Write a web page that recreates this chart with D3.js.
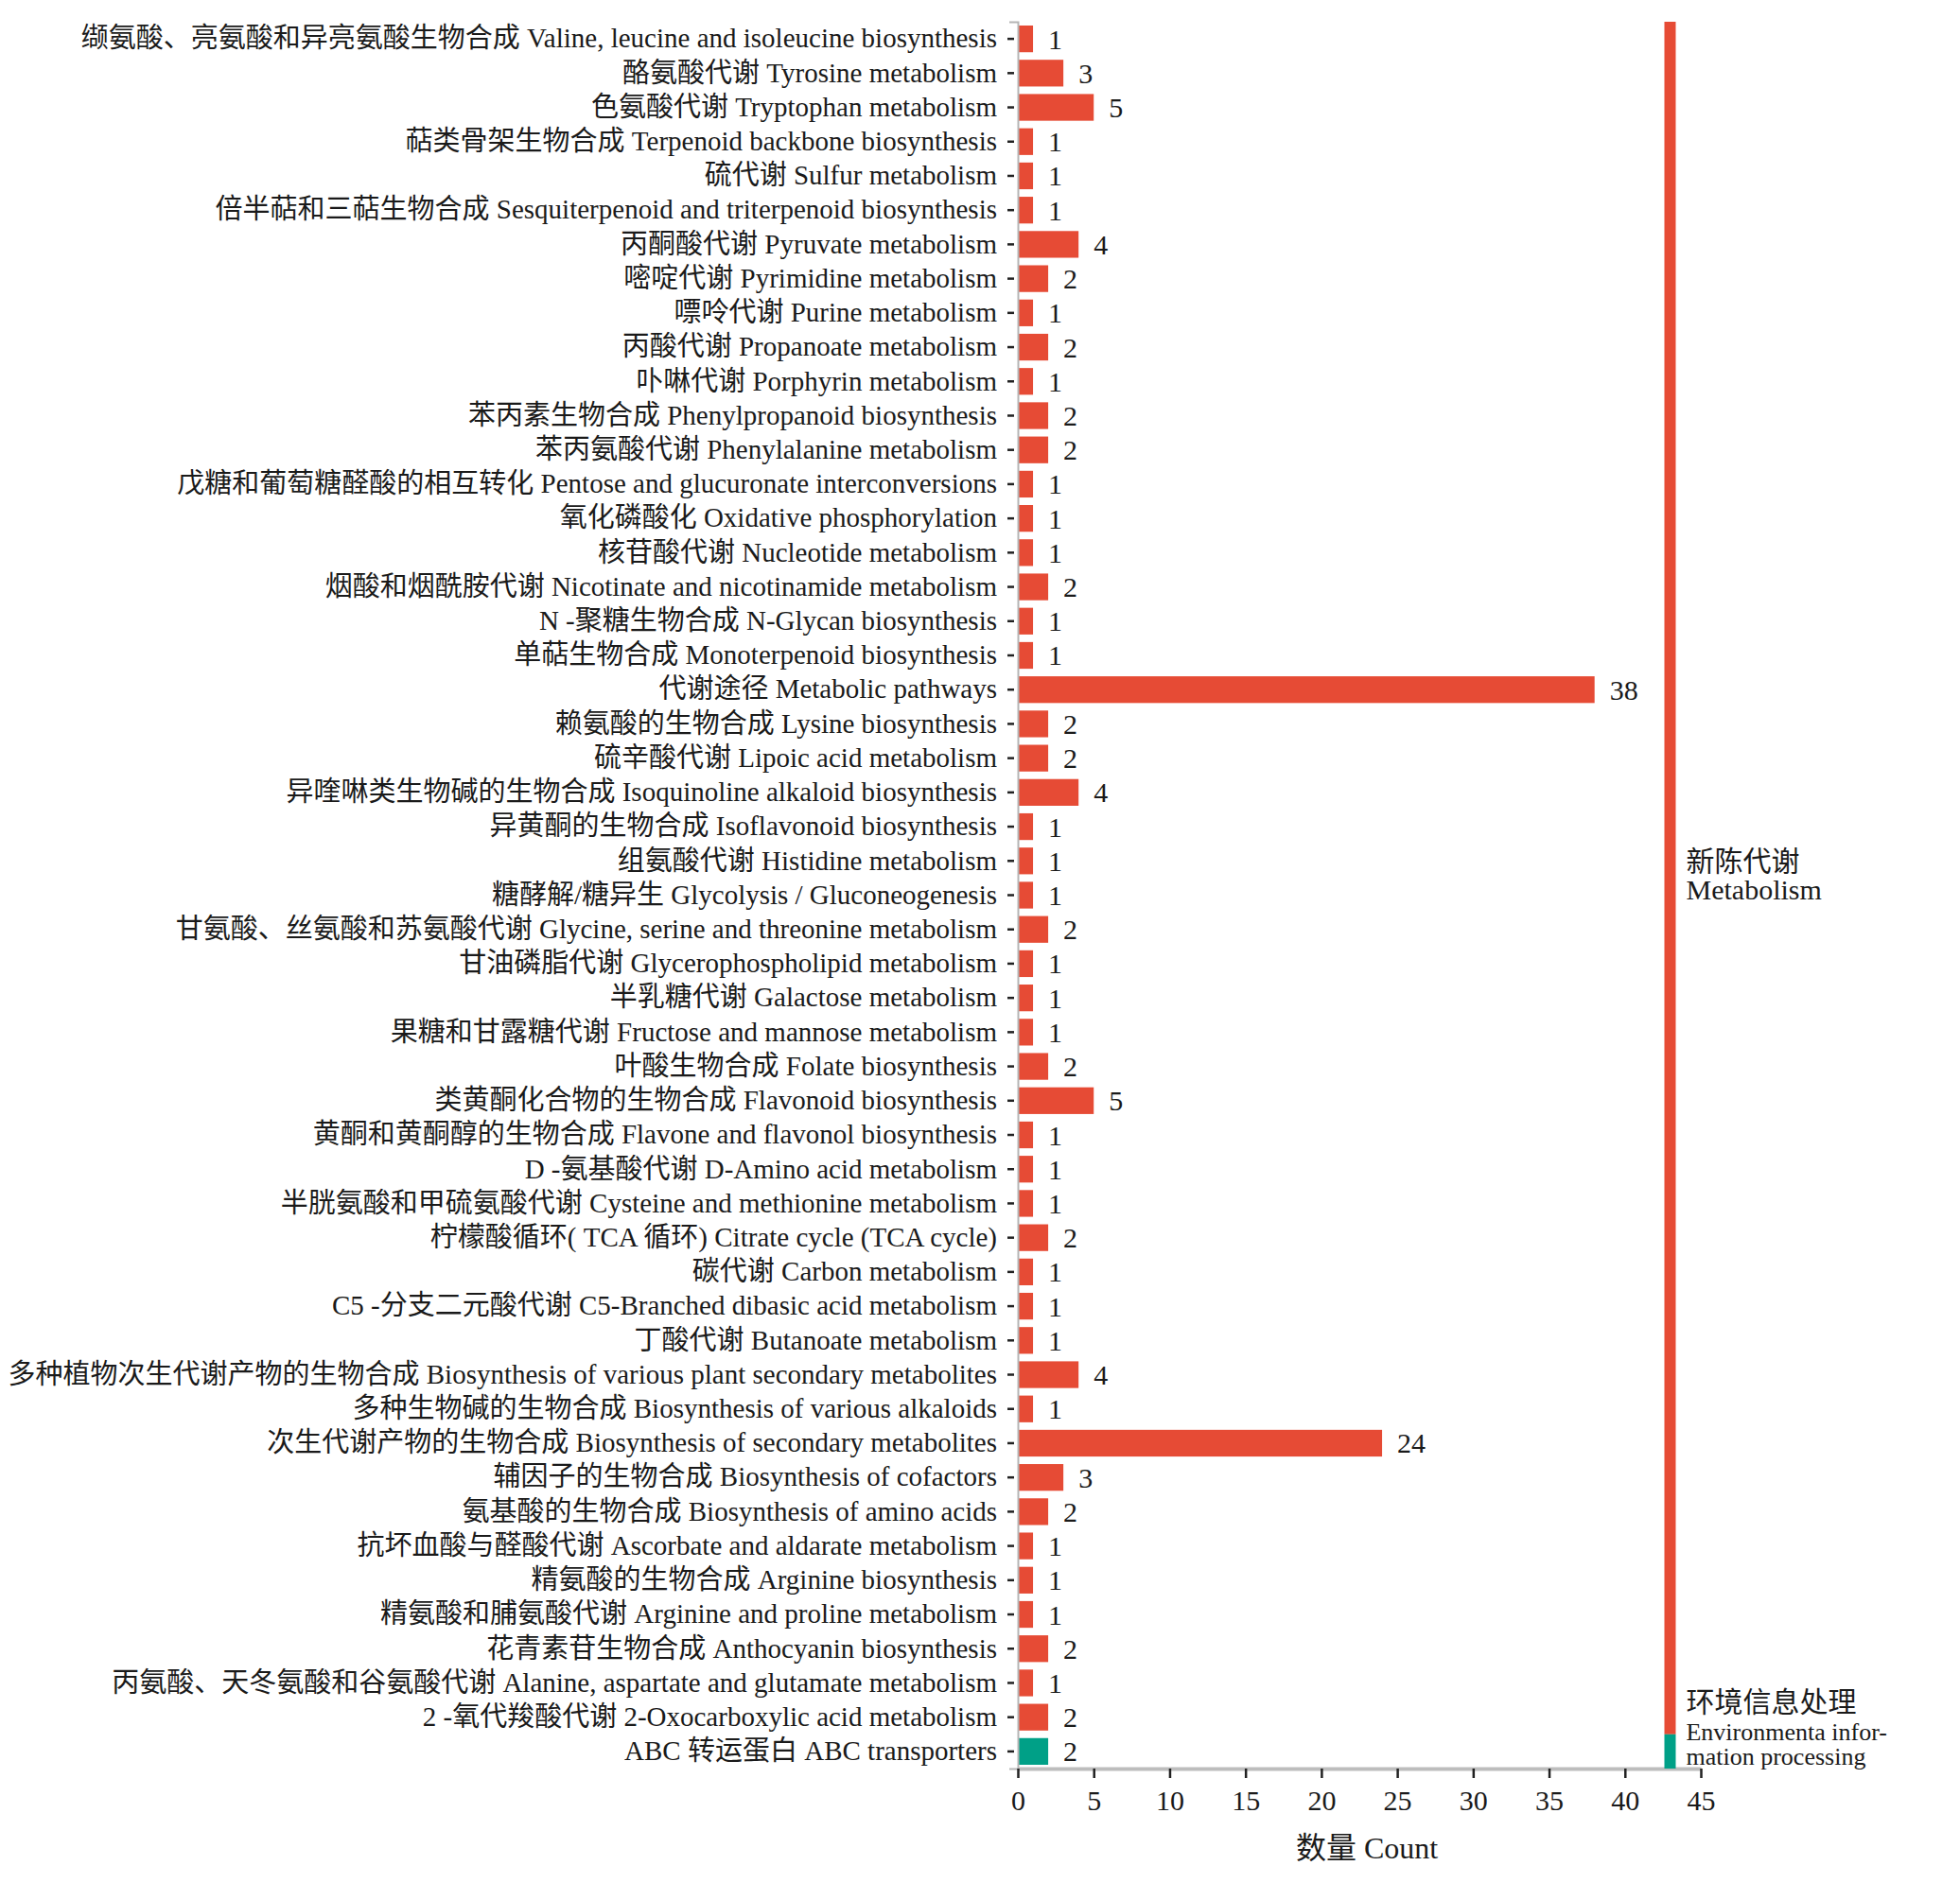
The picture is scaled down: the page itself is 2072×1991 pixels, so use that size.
<!DOCTYPE html>
<html>
<head>
<meta charset="utf-8">
<script src="https://cdn.jsdelivr.net/npm/d3@7"></script>
<style>
  body { margin: 0; background: #fff; }
  svg text { font-family: "Liberation Serif", "Noto Sans CJK SC", serif; fill: #1a1a1a; }
</style>
</head>
<body>
<div id="chart"></div>
<script>
// pathway names, top to bottom
var pathways = [
  "缬氨酸、亮氨酸和异亮氨酸生物合成 Valine, leucine and isoleucine biosynthesis",
  "酪氨酸代谢 Tyrosine metabolism",
  "色氨酸代谢 Tryptophan metabolism",
  "萜类骨架生物合成 Terpenoid backbone biosynthesis",
  "硫代谢 Sulfur metabolism",
  "倍半萜和三萜生物合成 Sesquiterpenoid and triterpenoid biosynthesis",
  "丙酮酸代谢 Pyruvate metabolism",
  "嘧啶代谢 Pyrimidine metabolism",
  "嘌呤代谢 Purine metabolism",
  "丙酸代谢 Propanoate metabolism",
  "卟啉代谢 Porphyrin metabolism",
  "苯丙素生物合成 Phenylpropanoid biosynthesis",
  "苯丙氨酸代谢 Phenylalanine metabolism",
  "戊糖和葡萄糖醛酸的相互转化 Pentose and glucuronate interconversions",
  "氧化磷酸化 Oxidative phosphorylation",
  "核苷酸代谢 Nucleotide metabolism",
  "烟酸和烟酰胺代谢 Nicotinate and nicotinamide metabolism",
  "N -聚糖生物合成 N-Glycan biosynthesis",
  "单萜生物合成 Monoterpenoid biosynthesis",
  "代谢途径 Metabolic pathways",
  "赖氨酸的生物合成 Lysine biosynthesis",
  "硫辛酸代谢 Lipoic acid metabolism",
  "异喹啉类生物碱的生物合成 Isoquinoline alkaloid biosynthesis",
  "异黄酮的生物合成 Isoflavonoid biosynthesis",
  "组氨酸代谢 Histidine metabolism",
  "糖酵解/糖异生 Glycolysis / Gluconeogenesis",
  "甘氨酸、丝氨酸和苏氨酸代谢 Glycine, serine and threonine metabolism",
  "甘油磷脂代谢 Glycerophospholipid metabolism",
  "半乳糖代谢 Galactose metabolism",
  "果糖和甘露糖代谢 Fructose and mannose metabolism",
  "叶酸生物合成 Folate biosynthesis",
  "类黄酮化合物的生物合成 Flavonoid biosynthesis",
  "黄酮和黄酮醇的生物合成 Flavone and flavonol biosynthesis",
  "D -氨基酸代谢 D-Amino acid metabolism",
  "半胱氨酸和甲硫氨酸代谢 Cysteine and methionine metabolism",
  "柠檬酸循环( TCA 循环) Citrate cycle (TCA cycle)",
  "碳代谢 Carbon metabolism",
  "C5 -分支二元酸代谢 C5-Branched dibasic acid metabolism",
  "丁酸代谢 Butanoate metabolism",
  "多种植物次生代谢产物的生物合成 Biosynthesis of various plant secondary metabolites",
  "多种生物碱的生物合成 Biosynthesis of various alkaloids",
  "次生代谢产物的生物合成 Biosynthesis of secondary metabolites",
  "辅因子的生物合成 Biosynthesis of cofactors",
  "氨基酸的生物合成 Biosynthesis of amino acids",
  "抗坏血酸与醛酸代谢 Ascorbate and aldarate metabolism",
  "精氨酸的生物合成 Arginine biosynthesis",
  "精氨酸和脯氨酸代谢 Arginine and proline metabolism",
  "花青素苷生物合成 Anthocyanin biosynthesis",
  "丙氨酸、天冬氨酸和谷氨酸代谢 Alanine, aspartate and glutamate metabolism",
  "2 -氧代羧酸代谢 2-Oxocarboxylic acid metabolism",
  "ABC 转运蛋白 ABC transporters"
];
var counts = [1, 3, 5, 1, 1, 1, 4, 2, 1, 2, 1, 2, 2, 1, 1, 1, 2, 1, 1, 38,
              2, 2, 4, 1, 1, 1, 2, 1, 1, 1, 2, 5, 1, 1, 1, 2, 1, 1, 1, 4,
              1, 24, 3, 2, 1, 1, 1, 2, 1, 2, 2];
// class of each pathway: 0 = metabolism, 1 = environmental info processing
var classIdx = [0,0,0,0,0,0,0,0,0,0,0,0,0,0,0,0,0,0,0,0,
                0,0,0,0,0,0,0,0,0,0,0,0,0,0,0,0,0,0,0,0,
                0,0,0,0,0,0,0,0,0,0,1];
var classNames = [["新陈代谢", "Metabolism"],
                  ["环境信息处理", "Environmenta infor-", "mation processing"]];
var classColors = ["#E64B35", "#00A087"];
var xTicks = [0, 5, 10, 15, 20, 25, 30, 35, 40, 45];
var xTitle = "数量 Count";

var W = 2072, H = 1991;
var margin = {top: 23, left: 1076, right: 274, bottom: 121};

var rows = pathways.map(function(p, i) {
    return {name: p, count: counts[i], cls: classIdx[i]};
});

var svg = d3.select("#chart").append("svg")
    .attr("width", W).attr("height", H);

var x = d3.scaleLinear().domain([0, 45]).range([margin.left, W - margin.right]);
var y = d3.scaleBand().domain(pathways)
    .range([margin.top, H - margin.bottom])
    .paddingInner(0.22).paddingOuter(0.11);

// bars
svg.append("g").selectAll("rect").data(rows).enter().append("rect")
    .attr("x", x(0))
    .attr("y", function(d) { return y(d.name); })
    .attr("width", function(d) { return x(d.count) - x(0); })
    .attr("height", y.bandwidth())
    .attr("fill", function(d) { return classColors[d.cls]; });

// value labels
svg.append("g").selectAll("text").data(rows).enter().append("text")
    .attr("x", function(d) { return x(d.count) + 16; })
    .attr("y", function(d) { return y(d.name) + y.bandwidth() / 2; })
    .attr("dy", "0.35em")
    .style("font-size", "30px")
    .text(function(d) { return d.count; });

// y axis
var yAxis = svg.append("g")
    .attr("transform", "translate(" + x(0) + ",0)")
    .call(d3.axisLeft(y).tickSize(9).tickPadding(13));
yAxis.select(".domain").attr("stroke", "#b5b5b5").attr("stroke-width", 2);
yAxis.selectAll(".tick line").attr("stroke", "#222").attr("stroke-width", 2.5)
    .attr("x1", -11).attr("x2", -4);
yAxis.selectAll(".tick text").style("font-size", "29px").attr("fill", "#1a1a1a");

// x axis
var xAxis = svg.append("g")
    .attr("transform", "translate(0," + (H - margin.bottom) + ")")
    .call(d3.axisBottom(x).tickValues(xTicks).tickSize(10).tickPadding(13).tickSizeOuter(0));
xAxis.select(".domain").attr("stroke", "#bdbdbd").attr("stroke-width", 4);
xAxis.selectAll(".tick line").attr("stroke", "#222").attr("stroke-width", 2.5);
xAxis.selectAll(".tick text").style("font-size", "30px").attr("fill", "#1a1a1a");

svg.append("text")
    .attr("x", (x(0) + x(45)) / 2 + 8)
    .attr("y", H - 26)
    .attr("text-anchor", "middle")
    .style("font-size", "32px")
    .text(xTitle);

// class strip on the right
var step = y.step(), gap = step - y.bandwidth();
var classes = classNames.map(function(n, c) {
    var members = rows.filter(function(d) { return d.cls === c; });
    var top = y(members[0].name) - gap / 2;
    var bottom = y(members[members.length - 1].name) + y.bandwidth() + gap / 2;
    return {cls: c, top: top, bottom: bottom, lines: n};
});

svg.append("g").selectAll("rect").data(classes).enter().append("rect")
    .attr("x", x(42.6))
    .attr("y", function(d) { return d.top; })
    .attr("width", 12)
    .attr("height", function(d) { return d.bottom - d.top; })
    .attr("fill", function(d) { return classColors[d.cls]; });

var lab = svg.append("g").selectAll("text").data(classes).enter().append("text")
    .attr("x", x(42.6) + 23)
    .attr("y", function(d) {
        if (d.cls === 0) return (d.top + d.bottom) / 2 - 7;
        return d.bottom - 60;
    });
lab.selectAll("tspan").data(function(d) { return d.lines.map(function(l, i) { return {l: l, i: i, c: d.cls}; }); })
    .enter().append("tspan")
    .attr("x", x(42.6) + 23)
    .attr("dy", function(t) { return t.i === 0 ? 0 : (t.c === 0 ? 30 : (t.i === 1 ? 30 : 26)); })
    .style("font-size", function(t) { return (t.c === 1 && t.i > 0) ? "26px" : "30px"; })
    .text(function(t) { return t.l; });
</script>
</body>
</html>
